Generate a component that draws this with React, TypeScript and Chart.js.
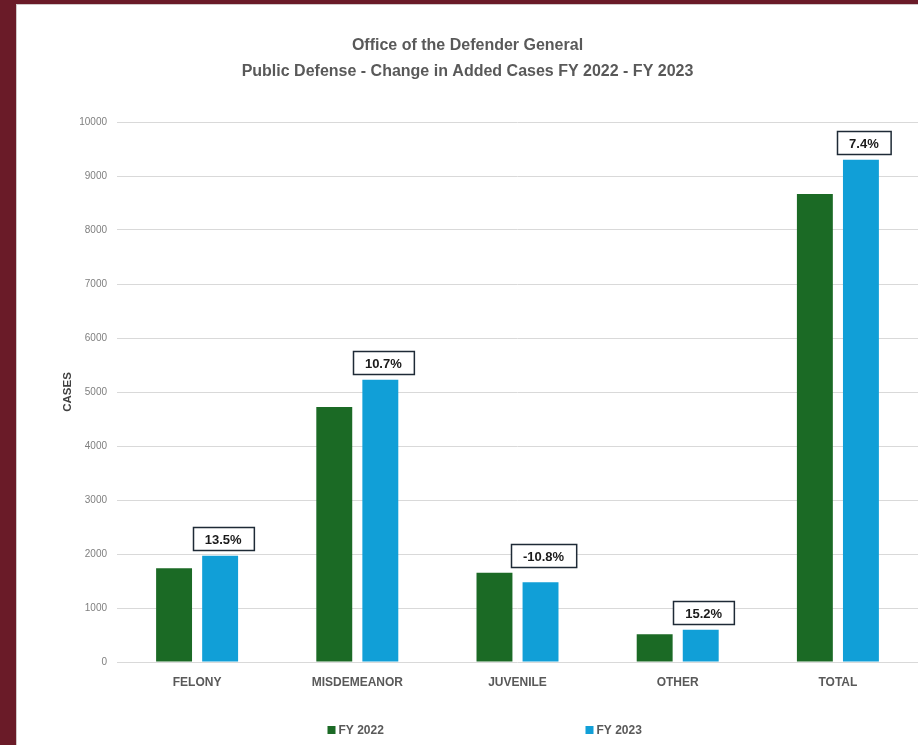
import React, { useEffect, useRef } from "react";
import { Chart, registerables } from "chart.js";

Chart.register(...registerables);

const titleLines = ["Office of the Defender General", "Public Defense - Change in Added Cases FY 2022 - FY 2023"];
const categories = ["FELONY", "MISDEMEANOR", "JUVENILE", "OTHER", "TOTAL"];
const seriesNames = ["FY 2022", "FY 2023"];
const fy2022 = [1735, 4722, 1654, 515, 8665];
const fy2023 = [1969, 5225, 1476, 597, 9300];
const changeLabels = ["13.5%", "10.7%", "-10.8%", "15.2%", "7.4%"];
const yMin = 0;
const yMax = 10000;
const yStep = 1000;
const colors = ["#1b6a25", "#119fd7"];

const FONT = "'Liberation Sans', Arial, sans-serif";

const changeLabelPlugin = {
  id: "changeLabels",
  afterDatasetsDraw(chart: any) {
    const ctx = chart.ctx;
    const m0 = chart.getDatasetMeta(0);
    const m1 = chart.getDatasetMeta(1);
    ctx.save();
    ctx.font = `bold 13px ${FONT}`;
    changeLabels.forEach((txt, i) => {
      const b1 = m1.data[i];
      const b0 = m0.data[i];
      if (!b1 || !b0) return;
      const top = Math.min(b0.y, b1.y);
      const tw = ctx.measureText(txt).width;
      const w = tw + 24;
      const h = 23;
      const cx = b1.x + 3;
      const bottom = top - 6;
      const x = Math.round(cx - w / 2) + 0.5;
      const y = Math.round(bottom - h) + 0.5;
      ctx.fillStyle = "#ffffff";
      ctx.fillRect(x, y, w, h);
      ctx.strokeStyle = "#1e2a36";
      ctx.lineWidth = 1.5;
      ctx.strokeRect(x, y, w, h);
      ctx.fillStyle = "#1a1a1a";
      ctx.textAlign = "center";
      ctx.textBaseline = "middle";
      ctx.fillText(txt, cx, y + h / 2 + 1);
    });
    ctx.restore();
  },
};

const legendPlugin = {
  id: "customLegend",
  afterDraw(chart: any) {
    const ctx = chart.ctx;
    ctx.save();
    ctx.font = `bold 12px ${FONT}`;
    const center = chart.width / 2 + 18;
    const starts = [center - 158, center + 100];
    const yc = 725;
    chart.data.datasets.forEach((ds: any, i: number) => {
      const x = starts[i];
      ctx.fillStyle = ds.backgroundColor;
      ctx.fillRect(x, yc - 4, 8, 8);
      ctx.fillStyle = "#595959";
      ctx.textAlign = "left";
      ctx.textBaseline = "middle";
      ctx.fillText(ds.label, x + 11, yc + 1);
    });
    ctx.restore();
  },
};

export default function App() {
  const ref = useRef<HTMLCanvasElement | null>(null);
  useEffect(() => {
    if (!ref.current) return;
    const chart = new Chart(ref.current, {
      type: "bar",
      data: {
        labels: categories,
        datasets: [
          { label: seriesNames[0], data: fy2022, backgroundColor: colors[0] },
          { label: seriesNames[1], data: fy2023, backgroundColor: colors[1] },
        ],
      },
      options: {
        animation: false,
        responsive: false,
        maintainAspectRatio: false,
        layout: { padding: { left: 0, right: 0, top: 0, bottom: 53 } },
        datasets: { bar: { categoryPercentage: 0.575, barPercentage: 0.78 } } as any,
        plugins: {
          legend: { display: false },
          tooltip: { enabled: false },
          title: {
            display: true,
            text: titleLines,
            color: "#595959",
            font: { family: FONT, size: 16, weight: "bold", lineHeight: 1.625 },
            padding: { top: 28, bottom: 37 },
          },
        },
        scales: {
          x: {
            grid: { display: false, drawTicks: false },
            border: { display: false },
            ticks: { color: "#595959", font: { family: FONT, size: 12, weight: "bold" }, padding: 13 },
            afterFit: (s: any) => { s.height = 30; },
          },
          y: {
            min: yMin,
            max: yMax,
            grid: { color: "#d9d9d9", lineWidth: 1, drawTicks: false },
            border: { display: false },
            ticks: {
              stepSize: yStep,
              color: "#7f7f7f",
              font: { family: FONT, size: 10 },
              padding: 10,
              callback: (v: any) => String(v),
            },
            title: {
              display: true,
              text: "CASES",
              color: "#404040",
              font: { family: FONT, size: 11.5, weight: "bold" },
              padding: { top: 44, bottom: 0 },
            },
            afterFit: (s: any) => { s.width = 100; },
          },
        },
      },
      plugins: [changeLabelPlugin, legendPlugin],
    });
    return () => chart.destroy();
  }, []);

  return (
    <div style={{ position: "fixed", left: 0, top: 0, width: 918, height: 745, background: "#6a1b28", overflow: "hidden" }}>
      <div style={{ position: "absolute", left: 16, top: 4, width: 902, height: 741, background: "#ffffff", borderLeft: "1px solid #d0c8c8", borderTop: "1px solid #d0c8c8" }}>
        <canvas ref={ref} width={901} height={740} style={{ display: "block" }} />
      </div>
    </div>
  );
}
